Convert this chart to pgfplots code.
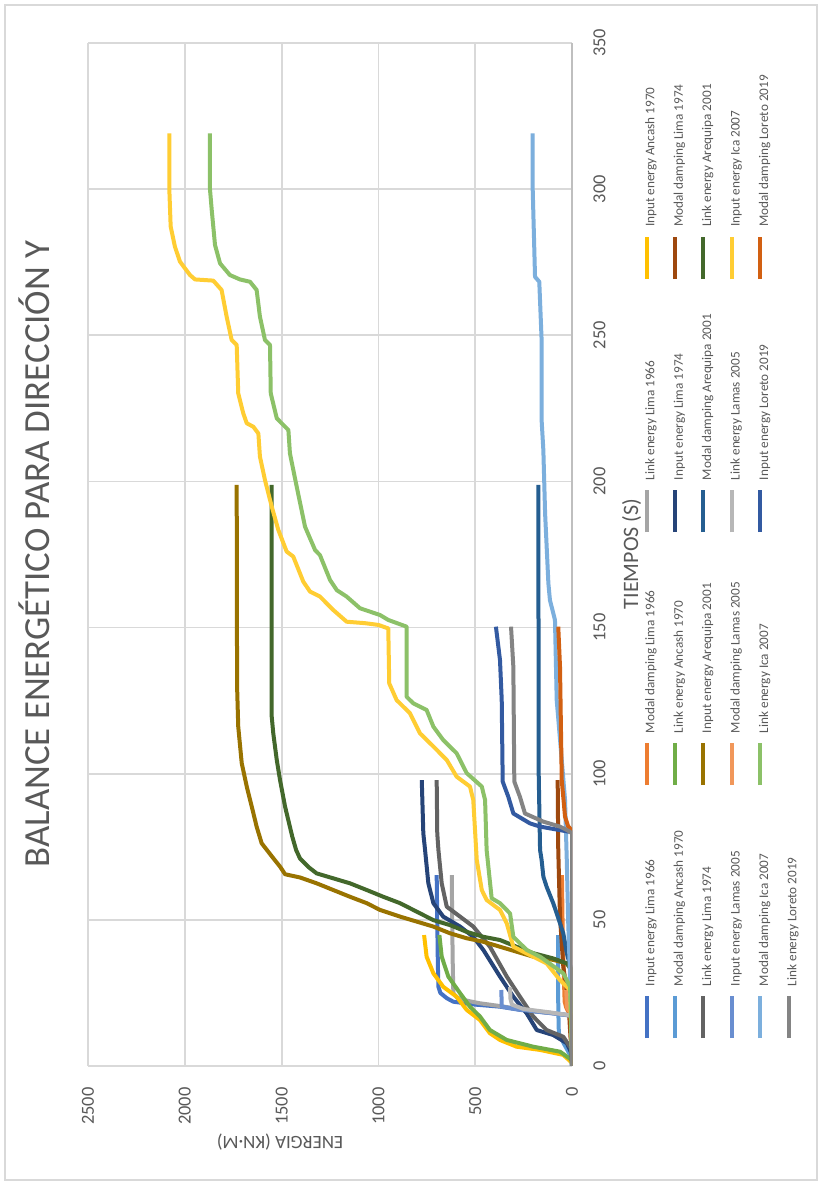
\documentclass[border=0pt]{standalone}
\usepackage{pgfplots}
\pgfplotsset{compat=1.18}
\usepackage{fontspec}
\setmainfont{Carlito}
\definecolor{s1}{HTML}{4472C4}
\definecolor{s2}{HTML}{ED7D31}
\definecolor{s3}{HTML}{A5A5A5}
\definecolor{s4}{HTML}{FFC000}
\definecolor{s5}{HTML}{5B9BD5}
\definecolor{s6}{HTML}{70AD47}
\definecolor{s7}{HTML}{264478}
\definecolor{s8}{HTML}{9E480E}
\definecolor{s9}{HTML}{636363}
\definecolor{s10}{HTML}{997300}
\definecolor{s11}{HTML}{255E91}
\definecolor{s12}{HTML}{43682B}
\definecolor{s13}{HTML}{698ED0}
\definecolor{s14}{HTML}{F1975A}
\definecolor{s15}{HTML}{B7B7B7}
\definecolor{s16}{HTML}{FFCD33}
\definecolor{s17}{HTML}{7CAFDD}
\definecolor{s18}{HTML}{8CC168}
\definecolor{s19}{HTML}{335AA1}
\definecolor{s20}{HTML}{D26012}
\definecolor{s21}{HTML}{848484}
\definecolor{gridc}{HTML}{D9D9D9}
\definecolor{axisc}{HTML}{BFBFBF}
\definecolor{txtc}{HTML}{595959}
\newcommand{\legent}[1]{\addlegendentry{\makebox[99.5pt][l]{#1}}}
\begin{document}
\begin{tikzpicture}[rotate=90, transform shape, x=1pt, y=1pt]
\fill[white] (-60,-125) rectangle (533,286);
\draw[gridc, line width=0.8pt] (-57,-122.5) rectangle (530.5,283.5);
\begin{axis}[
  at={(0pt,0pt)}, anchor=south west,
  width=511.5pt, height=242pt, scale only axis,
  xmin=0, xmax=350, ymin=0, ymax=2500,
  xtick={0,50,...,350}, ytick={0,500,...,2500},
  scaled ticks=false,
  /pgf/number format/1000 sep={},
  /pgf/number format/assume math mode=true,
  grid=major,
  major grid style={draw=gridc, line width=0.9pt},
  axis lines*=left,
  x axis line style={draw=axisc, line width=0.9pt},
  y axis line style={draw=gridc, line width=0.9pt},
  major tick length=0pt,
  tick label style={font=\fontsize{9.2}{11}\selectfont, text=txtc},
  xticklabel style={inner sep=0pt, anchor=north, yshift=-10.5pt},
  yticklabel style={inner sep=0pt, anchor=east, xshift=-10.5pt},
  legend columns=4,
  legend cell align=left,
  legend image code/.code={\draw[#1] (0pt,2.2pt) -- (21pt,2.2pt);},
  legend style={draw=none, fill=none, inner sep=0pt, outer sep=0pt,
    at={(axis description cs:0.0254,-0.1496)}, anchor=north west,
    font=\fontsize{6.6}{7.5}\selectfont, text=txtc,
    nodes={inner sep=0pt, text height=5pt, text depth=1.5pt},
    row sep=7.7pt,
    /tikz/every odd column/.append style={column sep=4pt},
    /tikz/every even column/.append style={column sep=0pt}},
  every axis plot/.append style={line width=2pt, line join=round, no markers},
]
% 1 Input energy Lima 1966
\addplot[s1] coordinates {(0,0)(17,0)(17.4,27)(18,97)(19.2,269)(20.3,372)(21,500)(22,613)(23.2,647)(25,680)(27.1,690)(35,693)(45,695)(55,697)(65.3,699)};
\legent{Input energy Lima 1966}
% 2 Modal damping Lima 1966
\addplot[s2] coordinates {(0,0)(17,0)(18,15)(20,30)(22,38)(30,42)(45,48)(65.3,52)};
\legent{Modal damping Lima 1966}
% 3 Link energy Lima 1966
\addplot[s3] coordinates {(0,0)(17,0)(17.4,20)(18,90)(19.2,250)(20.3,350)(21.5,480)(22.6,561)(23.5,595)(24.9,613)(35,616)(50,619)(65.3,621)};
\legent{Link energy Lima 1966}
% 4 Input energy Ancash 1970
\addplot[s4] coordinates {(0,0)(1,0)(2,15)(3.8,45)(5.5,165)(6.6,286)(8.9,372)(11.2,424)(15.7,475)(19.2,544)(23.7,596)(27.1,665)(31.7,716)(37.4,751)(44.8,764)};
\legent{Input energy Ancash 1970}
% 5 Modal damping Ancash 1970
\addplot[s5] coordinates {(0,0)(3,2)(5,20)(8,45)(11.2,68)(20,71)(44.8,72)};
\legent{Modal damping Ancash 1970}
% 6 Link energy Ancash 1970
\addplot[s6] coordinates {(0,0)(2,0)(4.9,62)(6.6,200)(8.9,337)(12.3,424)(16.9,475)(20.3,527)(24.9,578)(30.6,639)(37.4,673)(44.8,685)};
\legent{Link energy Ancash 1970}
% 7 Input energy Lima 1974
\addplot[s7] coordinates {(0,0)(4,0)(7.8,27)(10.6,97)(12.3,182)(18,234)(23.7,303)(30.6,372)(39.7,458)(44.2,510)(47.7,578)(51.1,665)(55.7,716)(62.5,742)(73.9,759)(79.6,768)(97.8,776)};
\legent{Input energy Lima 1974}
% 8 Modal damping Lima 1974
\addplot[s8] coordinates {(0,0)(5,0)(10,8)(22.6,19)(34,45)(51.1,62)(73.9,71)(97.8,74)};
\legent{Modal damping Lima 1974}
% 9 Link energy Lima 1974
\addplot[s9] coordinates {(0,0)(6,5)(10,45)(12.3,131)(16.9,200)(23.7,269)(30.6,337)(40.8,424)(47.7,510)(51.1,578)(54.5,647)(62.5,673)(73.9,690)(79.6,696)(97.8,699)};
\legent{Link energy Lima 1974}
% 10 Input energy Arequipa 2001
\addplot[s10] coordinates {(0,0)(33,0)(35.1,27)(36.3,97)(37.4,200)(39.1,286)(40.8,372)(42.5,458)(43.7,544)(45.4,630)(47.7,716)(49.4,802)(51.1,888)(53.4,992)(55.7,1060)(57.9,1147)(60.2,1233)(62.5,1319)(64.5,1405)(65.6,1482)(68.2,1508)(71.1,1543)(76.2,1603)(81.9,1629)(88.7,1654)(95.6,1680)(103.6,1706)(116.1,1724)(130,1730)(198.8,1732)};
\legent{Input energy Arequipa 2001}
% 11 Modal damping Arequipa 2001
\addplot[s11] coordinates {(0,0)(32,0)(38.6,27)(45.4,45)(52.2,79)(55.7,97)(61.3,131)(64.8,148)(70.5,157)(73.9,165)(100,172)(198.8,174)};
\legent{Modal damping Arequipa 2001}
% 12 Link energy Arequipa 2001
\addplot[s12] coordinates {(0,0)(33,5)(35.1,27)(36.8,97)(38.6,200)(40.8,286)(43.1,372)(44.2,458)(45.9,544)(48.2,630)(49.9,716)(52.8,802)(55.7,888)(57.9,975)(60.2,1060)(62.5,1147)(64.2,1233)(65.9,1319)(68,1360)(71,1405)(73.9,1425)(78.5,1445)(88.7,1482)(97.8,1508)(104.7,1525)(113.8,1543)(119.5,1551)(198.8,1551)};
\legent{Link energy Arequipa 2001}
% 13 Input energy Lamas 2005
\addplot[s13] coordinates {(0,0)(17,0)(17.5,30)(18.2,120)(19.2,260)(20.3,363)(26,365)};
\legent{Input energy Lamas 2005}
% 14 Modal damping Lamas 2005
\addplot[s14] coordinates {(0,0)(17,0)(18,10)(20,25)(26,30)};
\legent{Modal damping Lamas 2005}
% 15 Link energy Lamas 2005
\addplot[s15] coordinates {(0,0)(17,0)(17.5,25)(18.3,110)(19.5,250)(21,310)(23,318)(27,320)};
\legent{Link energy Lamas 2005}
% 16 Input energy Ica 2007
\addplot[s16] coordinates {(0,0)(4,0)(26,10)(29.4,62)(35.1,131)(37.4,200)(40.8,303)(48.8,337)(53.4,372)(56.8,441)(60.2,466)(70.5,492)(91,510)(95.6,527)(99,596)(104.7,647)(109.3,716)(113.8,785)(120.7,837)(125.2,906)(130.9,944)(149.7,949)(150.9,1000)(151.5,1069)(152,1164)(156,1233)(160.6,1302)(162.3,1353)(165.7,1388)(174.3,1440)(176,1474)(183.4,1517)(191.4,1551)(200.5,1586)(208.5,1612)(216.4,1620)(218.7,1646)(219.9,1680)(223.3,1698)(230.1,1724)(246.7,1732)(248.4,1758)(256.4,1784)(265.5,1810)(268.7,1853)(269.1,1947)(270.6,1973)(275.2,2025)(280.3,2051)(287.2,2073)(300,2080)(319.1,2080)};
\legent{Input energy Ica 2007}
% 17 Modal damping Ica 2007
\addplot[s17] coordinates {(0,0)(20,5)(30,10)(50,20)(70.5,27)(91,36)(104.7,53)(125.2,79)(152.6,88)(159.4,114)(165.1,122)(189.1,139)(210.7,148)(221,157)(248.4,157)(268.3,169)(270,191)(300,203)(319.1,203)};
\legent{Modal damping Ica 2007}
% 18 Link energy Ica 2007
\addplot[s18] coordinates {(0,0)(4,0)(27.1,10)(31.7,45)(37.4,165)(39.7,234)(44.2,303)(52.2,320)(55.7,372)(57.4,415)(73.9,441)(91,449)(95.6,466)(100.2,544)(107,596)(111.5,665)(116.1,716)(121.8,751)(124.1,820)(126.3,854)(150.3,854)(152.6,949)(154.3,992)(156.6,1095)(160.6,1164)(162.8,1215)(166.3,1250)(174.8,1302)(176.5,1327)(184.5,1379)(198.2,1422)(209.6,1457)(217.6,1465)(219.3,1491)(221.6,1525)(230.1,1556)(246.7,1560)(248.4,1586)(256.4,1612)(265.5,1629)(268.3,1663)(269.1,1715)(270.6,1767)(274.6,1818)(280.9,1844)(292.9,1861)(300,1870)(319.1,1870)};
\legent{Link energy Ica 2007}
% 19 Input energy Loreto 2019
\addplot[s19] coordinates {(0,0)(79.6,0)(80,2)(80.7,62)(81.9,165)(83,217)(86.4,303)(92.1,329)(97.3,358)(125.2,363)(138.9,372)(150.3,393)};
\legent{Input energy Loreto 2019}
% 20 Modal damping Loreto 2019
\addplot[s20] coordinates {(0,0)(79.6,0)(80.7,2)(82,20)(85.3,36)(97.8,53)(136.6,62)(150.3,71)};
\legent{Modal damping Loreto 2019}
% 21 Link energy Loreto 2019
\addplot[s21] coordinates {(0,0)(79.6,0)(80.5,20)(81.9,62)(83.6,148)(86.4,243)(92.1,269)(97.3,298)(136.6,303)(150.3,315)};
\legent{Link energy Loreto 2019}
\end{axis}
\node[anchor=base, text=txtc, font=\fontsize{18.4}{20}\selectfont] at (256,261) {BALANCE ENERGÉTICO PARA DIRECCIÓN Y};
\node[anchor=base, text=txtc, font=\fontsize{11}{13}\selectfont] at (256,-33) {TIEMPOS (S)};
\node[anchor=base, rotate=90, text=txtc, font=\fontsize{9.4}{11}\selectfont] at (-35.5,146) {ENERGIA (KN·M)};
\end{tikzpicture}
\end{document}
